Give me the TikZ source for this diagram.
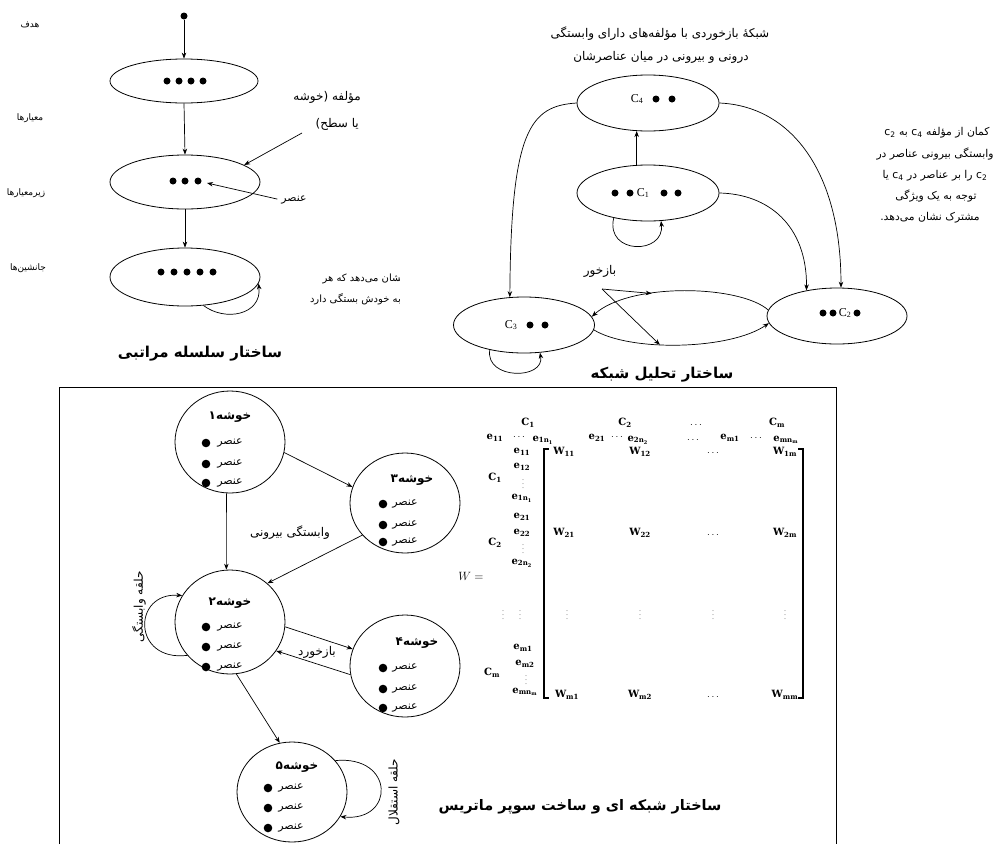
\documentclass[tikz,border=0pt]{standalone}
\usepackage{fontspec}
\setmainfont{Liberation Serif}
\newfontfamily\fa[Script=Arabic]{DejaVu Sans}
\newfontfamily\mxf{DejaVu Serif}
\TeXXeTstate=1
\usetikzlibrary{arrows.meta,shapes.geometric}
\newcommand\ix[2]{#1\textsubscript{#2}}
\newcommand\bd[2]{\fill (#1,#2) circle (3.5);}
\newcommand\kd[2]{\fill (#1,#2) circle (4.3);}
\begin{document}
\begin{tikzpicture}[x=1pt,y=-1pt,
  arr/.style={-{Stealth[length=6pt,width=4.5pt]}, line width=0.7pt},
  ell/.style={draw, ellipse, line width=0.8pt, inner sep=0pt},
  lab/.style={inner sep=0pt, font=\fontsize{9}{10}\selectfont\fa},
  note/.style={inner sep=0pt, font=\fontsize{12}{13}\selectfont\fa},
  rnote/.style={inner sep=0pt, font=\fontsize{10.8}{12}\selectfont\fa},
  snote/.style={inner sep=0pt, font=\fontsize{10}{11}\selectfont\fa},
  ttl/.style={inner sep=0pt, font=\fontsize{15}{16}\selectfont\fa\bfseries},
  khead/.style={inner sep=0pt, font=\fontsize{12}{13}\selectfont\fa\bfseries},
  kitem/.style={inner sep=0pt, font=\fontsize{11}{12}\selectfont\fa},
  cl/.style={inner sep=0pt, font=\fontsize{12}{12}\selectfont},
  mx/.style={inner sep=0pt, font=\fontsize{10}{10}\selectfont\mxf\bfseries},
  mv/.style={inner sep=0pt, font=\fontsize{6}{6}\selectfont}]
\useasboundingbox (0,0) rectangle (1001,844);
\fill[white] (0,0) rectangle (1001,844);

% ---------------- hierarchy ----------------
\node[circle,fill,inner sep=0pt,minimum size=7pt] (goal) at (184,16) {};
\node[ell, minimum width=148pt, minimum height=44pt] (E1) at (184,81) {};
\node[ell, minimum width=150pt, minimum height=54pt] (E2) at (185,182) {};
\node[ell, minimum width=150pt, minimum height=58pt] (E3) at (185,277) {};
\bd{167}{81}\bd{179}{81}\bd{191}{81}\bd{203}{81}
\bd{173}{181}\bd{185}{181}\bd{198}{181}
\bd{161}{272}\bd{174}{272}\bd{187}{272}\bd{200}{272}\bd{213}{272}
\draw[arr] (goal) -- (E1.north);
\draw[arr] (E1.south) -- (E2.north);
\draw[arr] (E2.south) -- (E3.north);
\draw[arr] (E3.303) .. controls (225,322) and (262,315) .. (E3.355);

\node[lab] (tGoal) at (30,25) {\beginR هدف\endR};
\node[lab] (tCrit) at (30,118) {\beginR معیارها\endR};
\node[lab] (tSub) at (26,193) {\beginR زیرمعیارها\endR};
\node[lab] (tAlt) at (28,268) {\beginR جانشین‌ها\endR};

\node[note,anchor=east] (tComp1) at (361,97) {\beginR مؤلفه (خوشه\endR};
\node[note,anchor=east] (tComp2) at (359,124) {\beginR یا سطح)\endR};
\coordinate (cp) at (302,133);
\draw[arr] (cp) -- (E2.16);
\node[rnote] (tElem) at (294,200) {\beginR عنصر\endR};
\coordinate (elemDot) at (207,183);
\draw[arr, shorten <=4pt] (tElem.west) -- (elemDot);
\begin{scope}
\clip (280,262) rectangle (399,312);
\node[snote,anchor=east] (tShow1) at (404,279) {\beginR نشان می‌دهد که هر\endR};
\node[snote,anchor=east] (tShow2) at (401,299) {\beginR به خودش بستگی دارد\endR};
\end{scope}
\node[ttl] (tH) at (200,354) {\beginR ساختار سلسله مراتبی\endR};

% ---------------- network ----------------
\node[note] (tNet1) at (660,34) {\beginR شبکهٔ بازخوردی با مؤلفه‌های دارای وابستگی\endR};
\node[note] (tNet2) at (661,57) {\beginR درونی و بیرونی در میان عناصرشان\endR};
\node[ell, minimum width=142pt, minimum height=56pt] (C4) at (648,103) {};
\node[ell, minimum width=142pt, minimum height=56pt] (C1) at (648,193) {};
\node[ell, minimum width=141pt, minimum height=56pt] (C3) at (524,325) {};
\node[ell, minimum width=140pt, minimum height=56pt] (C2) at (837,316) {};
\node[cl] (C4l) at (637,99) {\ix{C}{4}};
\bd{656}{99}\bd{672}{99}
\bd{615}{193}\bd{630}{193}
\node[cl] (C1l) at (643,193) {\ix{C}{1}};
\bd{664}{193}\bd{678}{193}
\node[cl] (C3l) at (511,325) {\ix{C}{3}};
\bd{530}{325}\bd{545}{325}
\bd{823}{313}\bd{833}{313}
\node[cl] (C2l) at (845,313) {\ix{C}{2}};
\bd{857}{313}

\draw[arr] (C1.112) -- (C4.248);
\draw[arr] (C4.west) .. controls (530,106) and (511,130) .. (C3.117);
\draw[arr] (C4.east) .. controls (790,106) and (841,170) .. (C2.82);
\draw[arr] (C1.east) .. controls (768,194) and (807,225) .. (C2.140);
\draw[arr] (C1.216) .. controls (605,255) and (665,255) .. (C1.295);
\draw[arr] (C3.216) .. controls (485,380) and (545,380) .. (C3.300);
\draw[arr] (C2.175) .. controls (740,285) and (630,282) .. (C3.7) coordinate[pos=0.65] (fbU);
\draw[arr] (C3.-4) .. controls (630,352) and (730,350) .. (C2.186) coordinate[pos=0.4] (fbL);
\node[note] (tFb) at (600,271) {\beginR بازخور\endR};
\coordinate (fbS) at (602,289);
\draw[arr] (fbS) -- (fbU);
\draw[arr] (fbS) -- (fbL);

\node[rnote] (tR1) at (937,133) {\beginR کمان از مؤلفه \beginL c\textsubscript{4}\endL{} به \beginL c\textsubscript{2}\endL\endR};
\node[rnote] (tR2) at (935,154) {\beginR وابستگی بیرونی عناصر در\endR};
\node[rnote] (tR3) at (935,176) {\beginR \beginL c\textsubscript{2}\endL{} را بر عناصر در \beginL c\textsubscript{4}\endL{} یا\endR};
\node[rnote] (tR4) at (936,196) {\beginR توجه به یک ویژگی\endR};
\node[rnote] (tR5) at (930,218) {\beginR مشترک نشان می‌دهد.\endR};
\node[ttl] (tN) at (662,375) {\beginR ساختار تحلیل شبکه\endR};

% ---------------- frame ----------------
\draw[line width=0.8pt] (59,844) -- (59,387) -- (836,387) -- (836,844);

% ---------------- clusters ----------------
\node[ell, minimum width=110pt, minimum height=102pt] (K1) at (230,442) {};
\node[ell, minimum width=110pt, minimum height=100pt] (K3) at (405,503) {};
\node[ell, minimum width=110pt, minimum height=104pt] (K2) at (230,622) {};
\node[ell, minimum width=110pt, minimum height=102pt] (K4) at (405,666) {};
\node[ell, minimum width=110pt, minimum height=100pt] (K5) at (292,792) {};

\node[khead] (K1h) at (230,417) {\beginR خوشه۱\endR};
\node[kitem] (K1a) at (230,443) {\beginR عنصر\endR};
\node[kitem] (K1b) at (230,464) {\beginR عنصر\endR};
\node[kitem] (K1c) at (230,483) {\beginR عنصر\endR};
\kd{206}{443}\kd{206}{464}\kd{206}{483}

\node[khead] (K3h) at (412,480) {\beginR خوشه۳\endR};
\node[kitem] (K3a) at (405,504) {\beginR عنصر\endR};
\node[kitem] (K3b) at (405,525) {\beginR عنصر\endR};
\node[kitem] (K3c) at (405,542) {\beginR عنصر\endR};
\kd{383}{504}\kd{383}{525}\kd{383}{542}

\node[khead] (K2h) at (230,603) {\beginR خوشه۲\endR};
\node[kitem] (K2a) at (230,627) {\beginR عنصر\endR};
\node[kitem] (K2b) at (230,647) {\beginR عنصر\endR};
\node[kitem] (K2c) at (230,667) {\beginR عنصر\endR};
\kd{206}{627}\kd{206}{647}\kd{206}{667}

\node[khead] (K4h) at (417,643) {\beginR خوشه۴\endR};
\node[kitem] (K4a) at (405,668) {\beginR عنصر\endR};
\node[kitem] (K4b) at (405,689) {\beginR عنصر\endR};
\node[kitem] (K4c) at (405,708) {\beginR عنصر\endR};
\kd{383}{668}\kd{383}{689}\kd{383}{708}

\node[khead] (K5h) at (297,767) {\beginR خوشه۵\endR};
\node[kitem] (K5a) at (291,788) {\beginR عنصر\endR};
\node[kitem] (K5b) at (291,808) {\beginR عنصر\endR};
\node[kitem] (K5c) at (291,828) {\beginR عنصر\endR};
\kd{268}{788}\kd{268}{808}\kd{268}{828}

\draw[arr] (K1.266) -- (K2.94);
\draw[arr] (K1.349) -- (K3.163);
\draw[arr] (K3.217) -- (K2.46);
\draw[arr] (K2.355) -- (K4.162);
\draw[arr] (K4.189) -- (K2.328);
\draw[arr] (K2.277) -- (K5.104);
\draw[arr] (K2.218) .. controls (132,662) and (132,592) .. (K2.151);
\draw[arr] (K5.36) .. controls (395,755) and (395,822) .. (K5.333);
\node[note] (tExt) at (290,533) {\beginR وابستگی بیرونی\endR};
\node[note] (tFb2) at (317,652) {\beginR بازخورد\endR};
\node[note,rotate=90] (tLoop1) at (139,607) {\beginR حلقه وابستگی\endR};
\node[note,rotate=90] (tLoop2) at (394,792) {\beginR حلقه استقلال\endR};

% ---------------- supermatrix ----------------
\foreach \x/\y/\t [count=\i] in {
 528/423/{\ix{C}{1}}, 625/423/{\ix{C}{2}}, 696/425/{$\cdots$}, 777/423/{\ix{C}{m}},
 495/438/{\ix{e}{11}}, 519/437/{$\cdots$}, 543/440/{\ix{e}{1\ix{n}{1}}},
 597/438/{\ix{e}{21}}, 617/437/{$\cdots$}, 638/440/{\ix{e}{2\ix{n}{2}}},
 693/440/{$\cdots$}, 730/438/{\ix{e}{m1}}, 756/438/{$\cdots$}, 786/440/{\ix{e}{m\ix{n}{m}}},
 522/452/{\ix{e}{11}}, 522/467/{\ix{e}{12}}, 522/498/{\ix{e}{1\ix{n}{1}}}, 495/478/{\ix{C}{1}},
 522/517/{\ix{e}{21}}, 522/533/{\ix{e}{22}}, 522/563/{\ix{e}{2\ix{n}{2}}}, 495/543/{\ix{C}{2}},
 523/648/{\ix{e}{m1}}, 525/664/{\ix{e}{m2}}, 525/692/{\ix{e}{m\ix{n}{m}}}, 492/673/{\ix{C}{m}},
 564/452/{\ix{W}{11}}, 640/452/{\ix{W}{12}}, 713/453/{$\cdots$}, 785/452/{\ix{W}{1m}},
 564/533/{\ix{W}{21}}, 640/533/{\ix{W}{22}}, 713/535/{$\cdots$}, 785/533/{\ix{W}{2m}},
 567/695/{\ix{W}{m1}}, 640/695/{\ix{W}{m2}}, 713/697/{$\cdots$}, 785/695/{\ix{W}{mm}}}
 {\node[mx] (mx\i) at (\x,\y) {\t};}
\foreach \x/\y [count=\i] in {523/481, 523/546, 526/677, 503/612, 520/612, 567/612, 640/612, 713/612, 785/612}
 {\node[mv] (mv\i) at (\x,\y) {$\vdots$};}
\node[inner sep=0pt, font=\fontsize{12}{12}\selectfont] (Weq) at (471,576) {$W=$};
\draw[line width=1.3pt] (549,449) -- (544,449) -- (544,698) -- (549,698);
\draw[line width=1.3pt] (798,449) -- (803,449) -- (803,698) -- (798,698);
\node[ttl, font=\fontsize{14.5}{16}\selectfont\fa\bfseries] (tM) at (580,807) {\beginR ساختار شبکه ای و ساخت سوپر ماتریس\endR};
\end{tikzpicture}
\end{document}
